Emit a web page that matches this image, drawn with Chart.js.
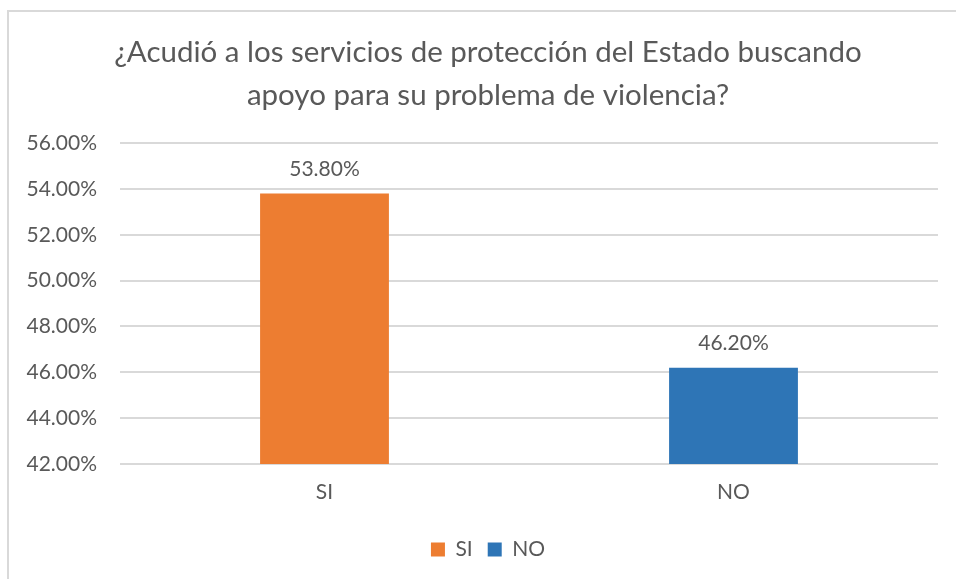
<!DOCTYPE html>
<html>
<head>
<meta charset="utf-8">
<script src="https://cdn.jsdelivr.net/npm/chart.js@4.4.0/dist/chart.umd.min.js"></script>
<style>
  html, body { margin: 0; padding: 0; background: #fff; overflow: hidden; }
  #frame { position: absolute; left: 7px; top: 10px; width: 1000px; height: 1000px; border: 2px solid #d9d9d9; }
  #chart { position: absolute; left: 0; top: 0; }
</style>
</head>
<body>
<div id="frame"></div>
<canvas id="chart" width="956" height="579"></canvas>
<script>
const categories = ['SI', 'NO'];
const siValues = [53.8, null];
const noValues = [null, 46.2];
const titleLines = ['¿Acudió a los servicios de protección del Estado buscando', 'apoyo para su problema de violencia?'];
const yMin = 42, yMax = 56, yStep = 2;

const textColor = '#595959';
const fontFamily = 'Lato, "Open Sans", sans-serif';

// value labels above bars
const valueLabels = {
    id: 'valueLabels',
    afterDatasetsDraw(chart) {
        const ctx = chart.ctx;
        ctx.save();
        ctx.fillStyle = textColor;
        ctx.font = '21px ' + fontFamily;
        ctx.textAlign = 'center';
        ctx.textBaseline = 'middle';
        chart.data.datasets.forEach((ds, i) => {
            chart.getDatasetMeta(i).data.forEach((bar, j) => {
                if (ds.data[j] == null) return;
                ctx.fillText(ds.data[j].toFixed(2) + '%', bar.x, bar.y - 24);
            });
        });
        ctx.restore();
    }
};

new Chart(document.getElementById('chart'), {
    type: 'bar',
    data: {
        labels: categories,
        datasets: [
            { label: 'SI', data: siValues, backgroundColor: '#ED7D31' },
            { label: 'NO', data: noValues, backgroundColor: '#2E75B6' }
        ]
    },
    options: {
        responsive: false,
        animation: false,
        layout: { padding: { left: 20, right: 0, top: 0, bottom: 9 } },
        datasets: { bar: { grouped: false, barPercentage: 0.315, categoryPercentage: 1 } },
        plugins: {
            title: {
                display: true,
                text: titleLines,
                color: textColor,
                font: { family: fontFamily, size: 29.5, weight: 'normal', lineHeight: 1.45 },
                padding: { top: 31, bottom: 26.5 }
            },
            legend: {
                position: 'bottom',
                labels: { color: textColor, font: { family: fontFamily, size: 21 }, boxWidth: 14, boxHeight: 14, padding: 15 }
            },
            tooltip: { enabled: false }
        },
        scales: {
            x: {
                grid: { display: false },
                border: { display: false },
                ticks: { color: textColor, font: { family: fontFamily, size: 21 }, padding: 8 },
                afterFit(scale) { scale.height = 60; }
            },
            y: {
                min: yMin,
                max: yMax,
                grid: { color: '#d9d9d9', lineWidth: 2, drawTicks: false },
                border: { display: false },
                ticks: {
                    stepSize: yStep,
                    color: textColor,
                    font: { family: fontFamily, size: 21 },
                    padding: 23,
                    callback: v => v.toFixed(2) + '%'
                },
                afterFit(scale) { scale.width = 100; }
            },
            // empty right-hand margin
            yRight: {
                position: 'right',
                grid: { display: false },
                border: { display: false },
                ticks: { display: false },
                afterFit(scale) { scale.width = 18; }
            }
        }
    },
    plugins: [valueLabels]
});
</script>
</body>
</html>
